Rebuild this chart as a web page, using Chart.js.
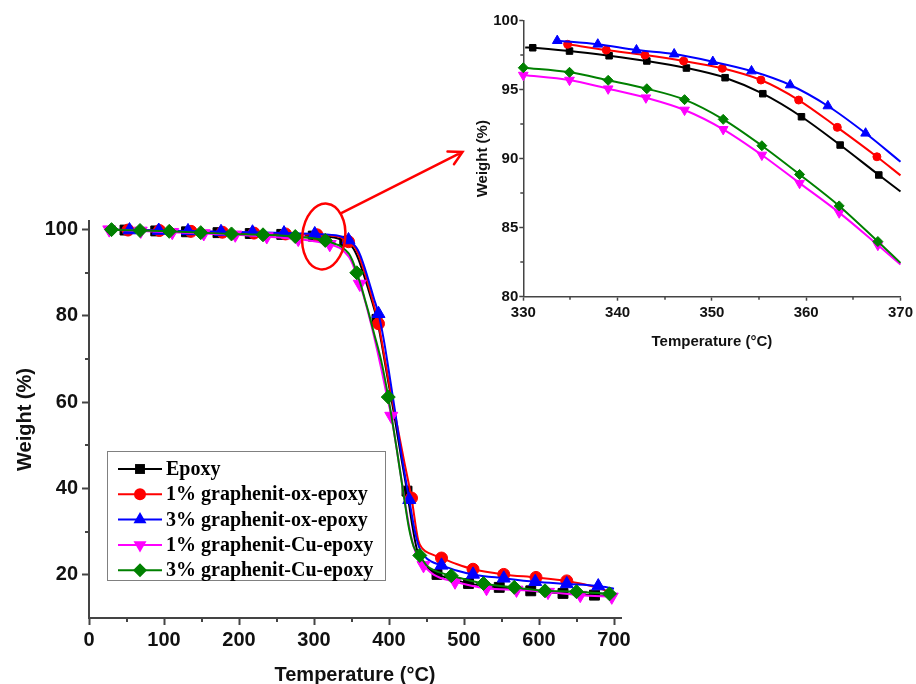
<!DOCTYPE html>
<html>
<head>
<meta charset="utf-8">
<title>TGA curves of epoxy and graphene composites</title>
<script src="https://cdn.jsdelivr.net/npm/chart.js@4.4.1/dist/chart.umd.min.js"></script>
<style>
  html, body { margin: 0; padding: 0; background: #ffffff; }
  #wrap { position: relative; width: 916px; height: 684px; overflow: hidden; background: #ffffff; }
  #mainChart { position: absolute; left: 0; top: 0; }
  #insetChart { position: absolute; left: 460px; top: 0; }
</style>
</head>
<body>
<div id="wrap">
  <canvas id="mainChart" width="916" height="684"></canvas>
  <canvas id="insetChart" width="456" height="360"></canvas>
</div>
<script>
// ---------- series ----------
const seriesNames = ['Epoxy', '1% graphenit-ox-epoxy', '3% graphenit-ox-epoxy', '1% graphenit-Cu-epoxy', '3% graphenit-Cu-epoxy'];

// Main plot: symbol points [°C, wt%] and further points along each curve [°C, wt%]
const epoxyMarks = [[48, 99.9], [89, 99.7], [130, 99.5], [172, 99.3], [215, 99.1], [257, 98.9], [299, 98.5], [341, 97.3], [384, 79.2], [424, 39.4], [464, 20.1], [506, 18.0], [547, 17.1], [589, 16.3], [632, 15.7], [674, 15.3]];
const epoxyCurve = [[25, 100.0], [320, 98.3], [331, 98.0], [347.3, 96.57], [351.4, 95.87], [355.4, 94.71], [359.5, 93.04], [363.6, 90.99], [367.7, 88.82], [372, 86.4], [378, 83.0], [390, 73.8], [398, 65.7], [407, 57.0], [416, 47.5], [431, 31.5], [437, 26.0], [443, 23.2], [450, 21.8], [485, 19.0], [700, 15.1]];

const ox1Marks = [[52, 99.9], [94, 99.8], [136, 99.6], [178, 99.4], [220, 99.2], [262, 99.0], [304, 98.8], [346, 97.2], [386, 78.2], [430, 37.8], [470, 23.9], [512, 21.3], [553, 20.1], [596, 19.4], [637, 18.6]];
const ox1Curve = [[25, 100.0], [334.7, 98.29], [338.8, 97.87], [342.9, 97.51], [351.1, 96.55], [355.2, 95.70], [359.2, 94.25], [363.3, 92.27], [367.5, 90.14], [372, 87.5], [379, 83.1], [392, 72.5], [400, 64.5], [410, 55.5], [420, 46.5], [439, 28.0], [445, 26.0], [455, 24.9], [490, 22.5], [660, 17.8], [680, 16.9], [700, 15.7]];

const ox3Marks = [[54, 99.9], [93, 99.8], [132, 99.7], [176, 99.5], [218, 99.4], [260, 99.2], [301, 99.0], [346, 97.6], [386, 80.5], [427, 37.4], [470, 22.2], [512, 20.1], [553, 19.2], [595, 18.4], [637, 17.9], [679, 17.4]];
const ox3Curve = [[25, 100.0], [333.6, 98.55], [337.9, 98.29], [342.0, 97.87], [350.1, 97.03], [354.2, 96.35], [358.3, 95.34], [362.3, 93.82], [366.3, 91.84], [370, 89.8], [380, 84.0], [393, 74.5], [400, 67.0], [408, 58.0], [416, 48.5], [434, 30.5], [440, 26.5], [447, 24.4], [456, 23.1], [490, 21.0], [700, 16.8]];

const cu1Marks = [[27, 100.0], [69, 99.7], [111, 99.4], [153, 99.1], [195, 98.8], [237, 98.4], [279, 97.8], [321, 96.6], [361, 87.4], [403, 56.8], [446, 22.2], [488, 18.4], [530, 16.9], [570, 16.5], [612, 16.0], [655, 15.3], [697, 14.9]];
const cu1Curve = [[22, 100.0], [330, 96.06], [334.9, 95.70], [339.0, 95.07], [343.0, 94.42], [347.1, 93.53], [351.2, 92.13], [355.3, 90.27], [359.3, 88.23], [363.5, 86.09], [367.6, 83.74], [372, 80.9], [380, 75.3], [390, 67.5], [396, 62.5], [410, 49.5], [418, 40.5], [426, 32.0], [433, 26.5], [439, 23.8], [460, 20.0]];

const cu3Marks = [[30, 100.0], [68, 99.8], [107, 99.6], [149, 99.3], [190, 99.0], [232, 98.8], [275, 98.4], [315, 97.5], [357, 90.0], [399, 61.2], [441, 24.5], [483, 19.8], [526, 18.0], [567, 17.1], [608, 16.3], [650, 16.1], [694, 15.6]];
const cu3Curve = [[25, 100.0], [330, 96.59], [334.9, 96.26], [339.0, 95.68], [343.1, 95.07], [347.1, 94.28], [351.2, 92.85], [355.3, 90.94], [359.3, 88.86], [363.5, 86.58], [367.6, 84.0], [372, 81.3], [380, 76.0], [390, 69.3], [410, 49.5], [420, 38.0], [427, 30.5], [433, 26.5], [450, 22.2], [462, 20.9]];

// Inset (330–370 °C): symbol points and curve ends [°C, wt%]
const insetEpoxy = [[331.0, 98.04], [334.9, 97.80], [339.1, 97.46], [343.1, 97.08], [347.3, 96.57], [351.4, 95.87], [355.4, 94.71], [359.5, 93.04], [363.6, 90.99], [367.7, 88.82]];
const insetEpoxyEnds = [[330.2, 98.06], [370, 87.62]];
const insetOx1 = [[334.7, 98.29], [338.8, 97.87], [342.9, 97.51], [347.0, 97.08], [351.1, 96.55], [355.2, 95.70], [359.2, 94.25], [363.3, 92.27], [367.5, 90.14]];
const insetOx1Ends = [[370, 88.79]];
const insetOx3 = [[333.6, 98.55], [337.9, 98.29], [342.0, 97.87], [346.0, 97.58], [350.1, 97.03], [354.2, 96.35], [358.3, 95.34], [362.3, 93.82], [366.3, 91.84]];
const insetOx3Ends = [[370, 89.78]];
const insetCu1 = [[330.0, 96.06], [334.9, 95.70], [339.0, 95.07], [343.0, 94.42], [347.1, 93.53], [351.2, 92.13], [355.3, 90.27], [359.3, 88.23], [363.5, 86.09], [367.6, 83.74]];
const insetCu1Ends = [[370, 82.33]];
const insetCu3 = [[330.0, 96.59], [334.9, 96.26], [339.0, 95.68], [343.1, 95.07], [347.1, 94.28], [351.2, 92.85], [355.3, 90.94], [359.3, 88.86], [363.5, 86.58], [367.6, 84.00]];
const insetCu3Ends = [[370, 82.45]];

// Axis ticks
const mainXTicks = [0, 100, 200, 300, 400, 500, 600, 700];
const mainXMinor = [50, 150, 250, 350, 450, 550, 650];
const mainYTicks = [20, 40, 60, 80, 100];
const mainYMinor = [30, 50, 70, 90];
const insetXTicks = [330, 340, 350, 360, 370];
const insetXMinor = [335, 345, 355, 365];
const insetYTicks = [80, 85, 90, 95, 100];
const insetYMinor = [82.5, 87.5, 92.5, 97.5];

// ---------- styling ----------
const colors = ['#000000', '#ff0000', '#0000ff', '#ff00ff', '#008000'];
const shapes = ['rect', 'circle', 'triangle', 'triangle', 'rectRot'];
const turns = [0, 0, 0, 180, 0];
const mainRadius = [7, 6, 7.5, 7.5, 7];
const insetRadius = [4.6, 4, 5.6, 5.6, 5];
const axisColor = '#444444';
const sansFamily = '"Liberation Sans", Arial, sans-serif';

// circled region on the main plot and the arrow pointing to the inset (data units)
const zoomMark = { t: 313, w: 98.4 };
const arrowFrom = { t: 337, w: 103.9 };
const arrowTo = { t: 498, w: 118 };

Chart.defaults.font.family = sansFamily;

function points(marks, curve) {
  return marks.map(([x, y]) => ({ x, y, m: 1 }))
    .concat(curve.map(([x, y]) => ({ x, y, m: 0 })))
    .sort((a, b) => a.x - b.x);
}

function drawMarker(ctx, shape, turn, x, y, r, color) {
  ctx.save();
  ctx.translate(x, y);
  ctx.rotate(turn * Math.PI / 180);
  ctx.fillStyle = color;
  ctx.beginPath();
  if (shape === 'circle') {
    ctx.arc(0, 0, r, 0, Math.PI * 2);
  } else if (shape === 'rect') {
    const s = r * Math.SQRT1_2;
    ctx.rect(-s, -s, 2 * s, 2 * s);
  } else if (shape === 'rectRot') {
    ctx.moveTo(-r, 0); ctx.lineTo(0, -r); ctx.lineTo(r, 0); ctx.lineTo(0, r); ctx.closePath();
  } else {
    for (let k = 0; k < 3; k++) {
      const a = k * 2 * Math.PI / 3;
      const px = Math.sin(a) * r, py = -Math.cos(a) * r;
      if (k === 0) ctx.moveTo(px, py); else ctx.lineTo(px, py);
    }
    ctx.closePath();
  }
  ctx.fill();
  ctx.restore();
}

// short ticks between the labelled ones
const minorTicks = {
  id: 'minorTicks',
  afterDraw(chart, args, o) {
    const { ctx } = chart;
    const xs = chart.scales.x, ys = chart.scales.y;
    ctx.save();
    ctx.strokeStyle = o.color;
    ctx.lineWidth = o.width;
    ctx.beginPath();
    o.xValues.forEach(v => {
      const px = Math.round(xs.getPixelForValue(v));
      ctx.moveTo(px, xs.top); ctx.lineTo(px, xs.top + o.length);
    });
    o.yValues.forEach(v => {
      const py = Math.round(ys.getPixelForValue(v));
      ctx.moveTo(ys.right, py); ctx.lineTo(ys.right - o.length, py);
    });
    ctx.stroke();
    ctx.restore();
  }
};

// framed legend with a line and symbol per series
const boxLegend = {
  id: 'boxLegend',
  afterDraw(chart, args, o) {
    const { ctx } = chart;
    ctx.save();
    ctx.strokeStyle = o.borderColor;
    ctx.lineWidth = 1;
    ctx.strokeRect(o.x + 0.5, o.y + 0.5, o.w, o.h);
    ctx.font = o.font;
    ctx.textBaseline = 'middle';
    chart.data.datasets.forEach((ds, i) => {
      const y = o.y + o.firstRow + i * o.rowGap;
      ctx.strokeStyle = ds.borderColor;
      ctx.lineWidth = 2;
      ctx.beginPath();
      ctx.moveTo(o.x + o.lineStart, y);
      ctx.lineTo(o.x + o.lineEnd, y);
      ctx.stroke();
      drawMarker(ctx, shapes[i], turns[i], o.x + (o.lineStart + o.lineEnd) / 2, y, mainRadius[i], ds.borderColor);
      ctx.fillStyle = '#000000';
      ctx.fillText(ds.label, o.x + o.textX, y + 1);
    });
    ctx.restore();
  }
};

// red ellipse around the onset region and the arrow to the inset
const callout = {
  id: 'callout',
  afterDatasetsDraw(chart, args, o) {
    const { ctx } = chart;
    const xs = chart.scales.x, ys = chart.scales.y;
    const cx = xs.getPixelForValue(zoomMark.t), cy = ys.getPixelForValue(zoomMark.w);
    ctx.save();
    ctx.strokeStyle = o.color;
    ctx.lineWidth = o.width;
    ctx.lineCap = 'round';
    ctx.beginPath();
    ctx.ellipse(cx, cy, o.rx, o.ry, o.tilt, 0, Math.PI * 2);
    ctx.stroke();
    const ax = xs.getPixelForValue(arrowFrom.t), ay = ys.getPixelForValue(arrowFrom.w);
    const bx = xs.getPixelForValue(arrowTo.t), by = ys.getPixelForValue(arrowTo.w);
    const ang = Math.atan2(by - ay, bx - ax);
    ctx.beginPath();
    ctx.moveTo(ax, ay);
    ctx.lineTo(bx, by);
    ctx.moveTo(bx - o.head * Math.cos(ang - o.spread), by - o.head * Math.sin(ang - o.spread));
    ctx.lineTo(bx, by);
    ctx.lineTo(bx - o.head * Math.cos(ang + o.spread), by - o.head * Math.sin(ang + o.spread));
    ctx.stroke();
    ctx.restore();
  }
};

function buildSets(pairs, radii) {
  return seriesNames.map((name, i) => ({
    label: name,
    data: points(pairs[i][0], pairs[i][1]),
    borderColor: colors[i],
    backgroundColor: colors[i],
    borderWidth: 2,
    pointStyle: shapes[i],
    pointRotation: turns[i],
    pointRadius: c => (c.raw && c.raw.m ? radii[i] : 0),
    pointBorderWidth: 1,
    cubicInterpolationMode: 'monotone',
    order: 4 - i,
    clip: false
  }));
}

function axis(opts) {
  return {
    type: 'linear',
    position: opts.position,
    min: opts.min,
    max: opts.max,
    afterBuildTicks: s => { s.ticks = opts.ticks.map(v => ({ value: v })); },
    afterFit: s => { if (opts.position === 'left') s.width = opts.size; else s.height = opts.size; },
    grid: { display: true, drawOnChartArea: false, drawTicks: true, tickLength: opts.tickLength, tickColor: axisColor, tickWidth: opts.lineWidth },
    border: { display: true, color: axisColor, width: opts.lineWidth },
    ticks: {
      color: '#111111', padding: opts.padding, maxRotation: 0, autoSkip: false,
      font: { size: opts.fontSize, weight: 'bold', family: sansFamily },
      callback: v => String(v)
    },
    title: {
      display: true, text: opts.title, color: '#111111',
      font: { size: opts.titleSize, weight: 'bold', family: sansFamily, lineHeight: opts.titleLine },
      padding: opts.titlePadding
    }
  };
}

// ---------- main plot ----------
new Chart(document.getElementById('mainChart'), {
  type: 'line',
  data: {
    datasets: buildSets([
      [epoxyMarks, epoxyCurve], [ox1Marks, ox1Curve], [ox3Marks, ox3Curve], [cu1Marks, cu1Curve], [cu3Marks, cu3Curve]
    ], mainRadius)
  },
  options: {
    responsive: false, animation: false, devicePixelRatio: 1, events: [],
    layout: { padding: { left: 0, right: 295, top: 221, bottom: 0 } },
    scales: {
      x: axis({ position: 'bottom', min: 0, max: 709.33, ticks: mainXTicks, size: 66, tickLength: 7, lineWidth: 2, padding: 3, fontSize: 20,
        title: 'Temperature (°C)', titleSize: 20, titleLine: 0.9, titlePadding: { top: 0, bottom: 0 } }),
      y: axis({ position: 'left', min: 10, max: 102, ticks: mainYTicks, size: 89, tickLength: 7, lineWidth: 2, padding: 4, fontSize: 20,
        title: 'Weight (%)', titleSize: 20, titleLine: 1.2, titlePadding: { top: 13, bottom: 0 } })
    },
    plugins: {
      legend: { display: false },
      tooltip: { enabled: false },
      minorTicks: { xValues: mainXMinor, yValues: mainYMinor, length: 4, color: axisColor, width: 2 },
      boxLegend: { x: 107, y: 451, w: 278, h: 129, firstRow: 18, rowGap: 25.3, lineStart: 11, lineEnd: 55, textX: 59,
        font: 'bold 20px "Liberation Serif", "Times New Roman", serif', borderColor: '#808080' },
      callout: { color: '#ff0000', width: 2.5, rx: 21.5, ry: 33, tilt: 0.1, head: 15, spread: 0.5 }
    }
  },
  plugins: [minorTicks, boxLegend, callout]
});

// ---------- inset: 330–370 °C ----------
new Chart(document.getElementById('insetChart'), {
  type: 'line',
  data: {
    datasets: buildSets([
      [insetEpoxy, insetEpoxyEnds], [insetOx1, insetOx1Ends], [insetOx3, insetOx3Ends], [insetCu1, insetCu1Ends], [insetCu3, insetCu3Ends]
    ], insetRadius)
  },
  options: {
    responsive: false, animation: false, devicePixelRatio: 1, events: [],
    layout: { padding: { left: 0, right: 14.3, top: 20.7, bottom: 0 } },
    scales: {
      x: axis({ position: 'bottom', min: 330, max: 370, ticks: insetXTicks, size: 63.3, tickLength: 4, lineWidth: 1.5, padding: 3, fontSize: 15,
        title: 'Temperature (°C)', titleSize: 15, titleLine: 1.2, titlePadding: { top: 0, bottom: 9.3 } }),
      y: axis({ position: 'left', min: 80, max: 100, ticks: insetYTicks, size: 63.3, tickLength: 4, lineWidth: 1.5, padding: 1, fontSize: 15,
        title: 'Weight (%)', titleSize: 15, titleLine: 1.2, titlePadding: { top: 14, bottom: 0 } })
    },
    plugins: {
      legend: { display: false },
      tooltip: { enabled: false },
      minorTicks: { xValues: insetXMinor, yValues: insetYMinor, length: 3, color: axisColor, width: 1.5 }
    }
  },
  plugins: [minorTicks]
});
</script>
</body>
</html>
